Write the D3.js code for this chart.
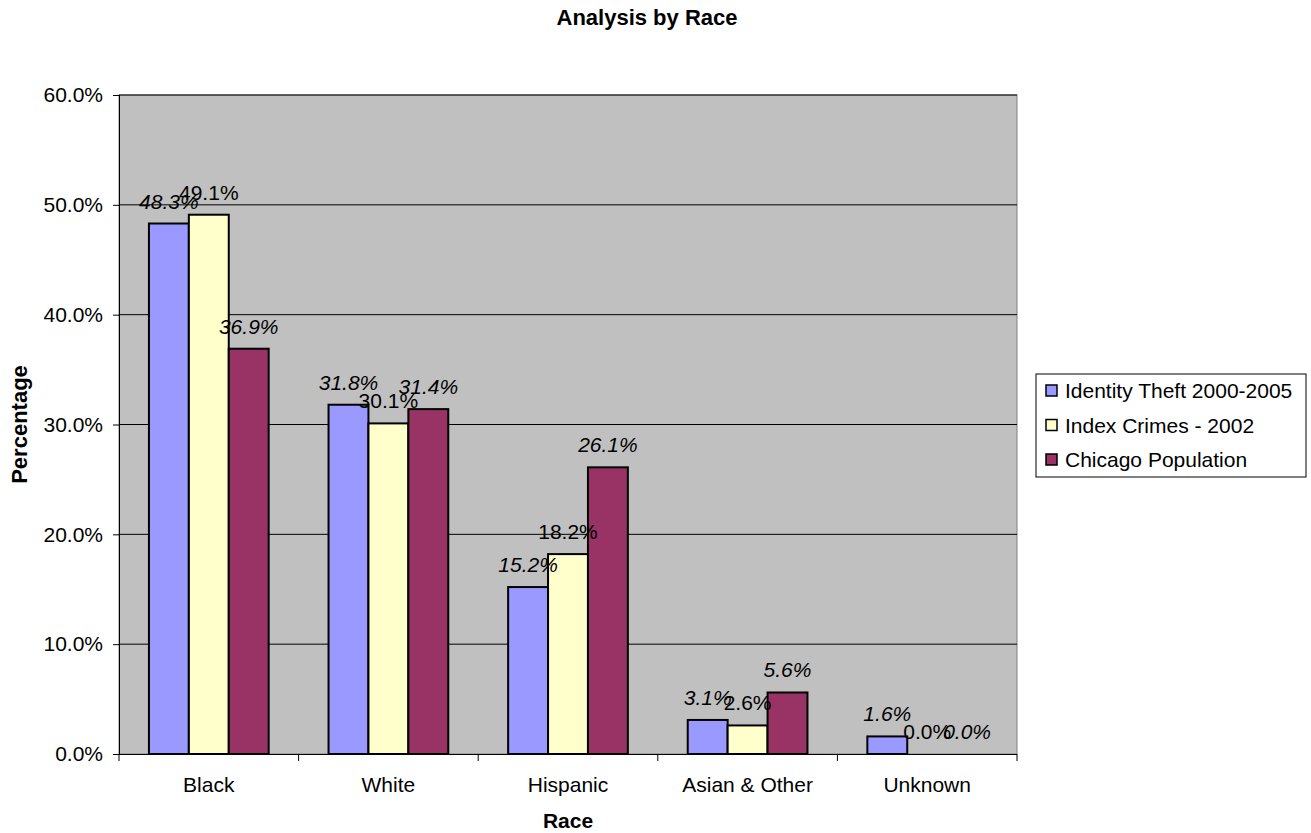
<!DOCTYPE html>
<html>
<head>
<meta charset="utf-8">
<script src="https://cdn.jsdelivr.net/npm/d3@7"></script>
<style>
    body { margin: 0; background: #fff; }
    text { font-family: "Liberation Sans", Arial, sans-serif; fill: #000; }
</style>
</head>
<body>
<div id="chart"></div>
<script>
// data
const categories = ["Black", "White", "Hispanic", "Asian & Other", "Unknown"];
const seriesNames = ["Identity Theft 2000-2005", "Index Crimes - 2002", "Chicago Population"];
const identityTheft = [48.3, 31.8, 15.2, 3.1, 1.6];
const indexCrimes = [49.1, 30.1, 18.2, 2.6, 0.0];
const chicagoPop = [36.9, 31.4, 26.1, 5.6, 0.0];
const yTicks = [0, 10, 20, 30, 40, 50, 60];

const colors = ["#9999FF", "#FFFFCC", "#993366"];
const italicLabel = [true, false, true];

const seriesValues = [identityTheft, indexCrimes, chicagoPop];

let margin = {top: 95, right: 294, bottom: 79, left: 119};
let width = 1311, height = 833;
let innerW = width - margin.left - margin.right;
let innerH = height - margin.top - margin.bottom;
let fs = "21px";

let svg = d3.select("#chart").append("svg")
    .attr("width", width)
    .attr("height", height);

let g = svg.append("g")
    .attr("transform", "translate(" + margin.left + "," + margin.top + ")");

let x0 = d3.scaleBand()
    .domain(categories)
    .range([0, innerW])
    .paddingInner(1/3)
    .paddingOuter(1/6);

let x1 = d3.scaleBand()
    .domain(d3.range(seriesNames.length))
    .range([0, x0.bandwidth()]);

let y = d3.scaleLinear()
    .domain([0, 60])
    .range([innerH, 0]);

// plot background
g.append("rect")
    .attr("width", innerW)
    .attr("height", innerH)
    .attr("fill", "#C0C0C0")
    .attr("stroke", "#808080")
    .attr("stroke-width", 1);

// gridlines
g.selectAll(".grid")
    .data(yTicks.slice(1))
    .enter().append("line")
    .attr("x1", 0).attr("x2", innerW)
    .attr("y1", d => y(d)).attr("y2", d => y(d))
    .attr("stroke", "#000")
    .attr("stroke-width", 1);

// y axis
let yAxis = d3.axisLeft(y)
    .tickValues(yTicks)
    .tickFormat(d => d.toFixed(1) + "%")
    .tickSize(6)
    .tickPadding(10);

let yg = g.append("g").call(yAxis);
yg.select(".domain").attr("stroke", "#000").attr("d", "M0.5,0V" + innerH);
yg.selectAll("text").style("font-size", fs).style("font-family", "Liberation Sans, Arial, sans-serif");

// x axis with ticks between categories
let xg = g.append("g")
    .attr("transform", "translate(0," + innerH + ")");
xg.append("line")
    .attr("x1", 0).attr("x2", innerW)
    .attr("y1", 0.5).attr("y2", 0.5)
    .attr("stroke", "#000");
let edges = categories.map(c => x0(c) - x0.step() * x0.paddingInner() / 2).concat([innerW]);
xg.selectAll(".xtick")
    .data(edges)
    .enter().append("line")
    .attr("x1", d => d).attr("x2", d => d)
    .attr("y1", 0).attr("y2", 7)
    .attr("stroke", "#000");
xg.selectAll(".xlabel")
    .data(categories)
    .enter().append("text")
    .attr("x", d => x0(d) + x0.bandwidth() / 2)
    .attr("y", 38)
    .attr("text-anchor", "middle")
    .style("font-size", fs)
    .text(d => d);

// bars
let groups = g.selectAll(".cat")
    .data(categories)
    .enter().append("g")
    .attr("transform", d => "translate(" + x0(d) + ",0)");

groups.selectAll("rect")
    .data((c, ci) => seriesValues.map((s, si) => ({si: si, v: s[ci]})))
    .enter().append("rect")
    .attr("x", d => x1(d.si))
    .attr("width", x1.bandwidth())
    .attr("y", d => y(d.v))
    .attr("height", d => innerH - y(d.v))
    .attr("fill", d => colors[d.si])
    .attr("stroke", "#000")
    .attr("stroke-width", d => d.v > 0 ? 2 : 0);

// value labels (they overlap in the original too)
groups.selectAll(".val")
    .data((c, ci) => seriesValues.map((s, si) => ({si: si, v: s[ci]})))
    .enter().append("text")
    .attr("x", d => x1(d.si) + x1.bandwidth() / 2)
    .attr("y", d => y(d.v) - 15)
    .attr("text-anchor", "middle")
    .style("font-size", fs)
    .style("font-style", d => italicLabel[d.si] ? "italic" : "normal")
    .text(d => d.v.toFixed(1) + "%");

// titles
svg.append("text")
    .attr("x", 647)
    .attr("y", 25)
    .attr("text-anchor", "middle")
    .style("font-size", "22px")
    .style("font-weight", "bold")
    .text("Analysis by Race");

svg.append("text")
    .attr("x", margin.left + innerW / 2)
    .attr("y", 828)
    .attr("text-anchor", "middle")
    .style("font-size", "21px")
    .style("font-weight", "bold")
    .text("Race");

svg.append("text")
    .attr("transform", "translate(27," + (margin.top + innerH / 2) + ") rotate(-90)")
    .attr("text-anchor", "middle")
    .style("font-size", "22px")
    .style("font-weight", "bold")
    .text("Percentage");

// legend
let legend = svg.append("g")
    .attr("transform", "translate(1036,374)");
legend.append("rect")
    .attr("width", 270)
    .attr("height", 103)
    .attr("fill", "#fff")
    .attr("stroke", "#000")
    .attr("stroke-width", 1);
let items = legend.selectAll(".item")
    .data(seriesNames)
    .enter().append("g")
    .attr("transform", (d, i) => "translate(10," + (16 + i * 34.5) + ")");
items.append("rect")
    .attr("x", 0).attr("y", -5)
    .attr("width", 11).attr("height", 11)
    .attr("fill", (d, i) => colors[i])
    .attr("stroke", "#000")
    .attr("stroke-width", 1.5);
items.append("text")
    .attr("x", 19)
    .attr("y", 8)
    .style("font-size", fs)
    .text(d => d);
</script>
</body>
</html>
